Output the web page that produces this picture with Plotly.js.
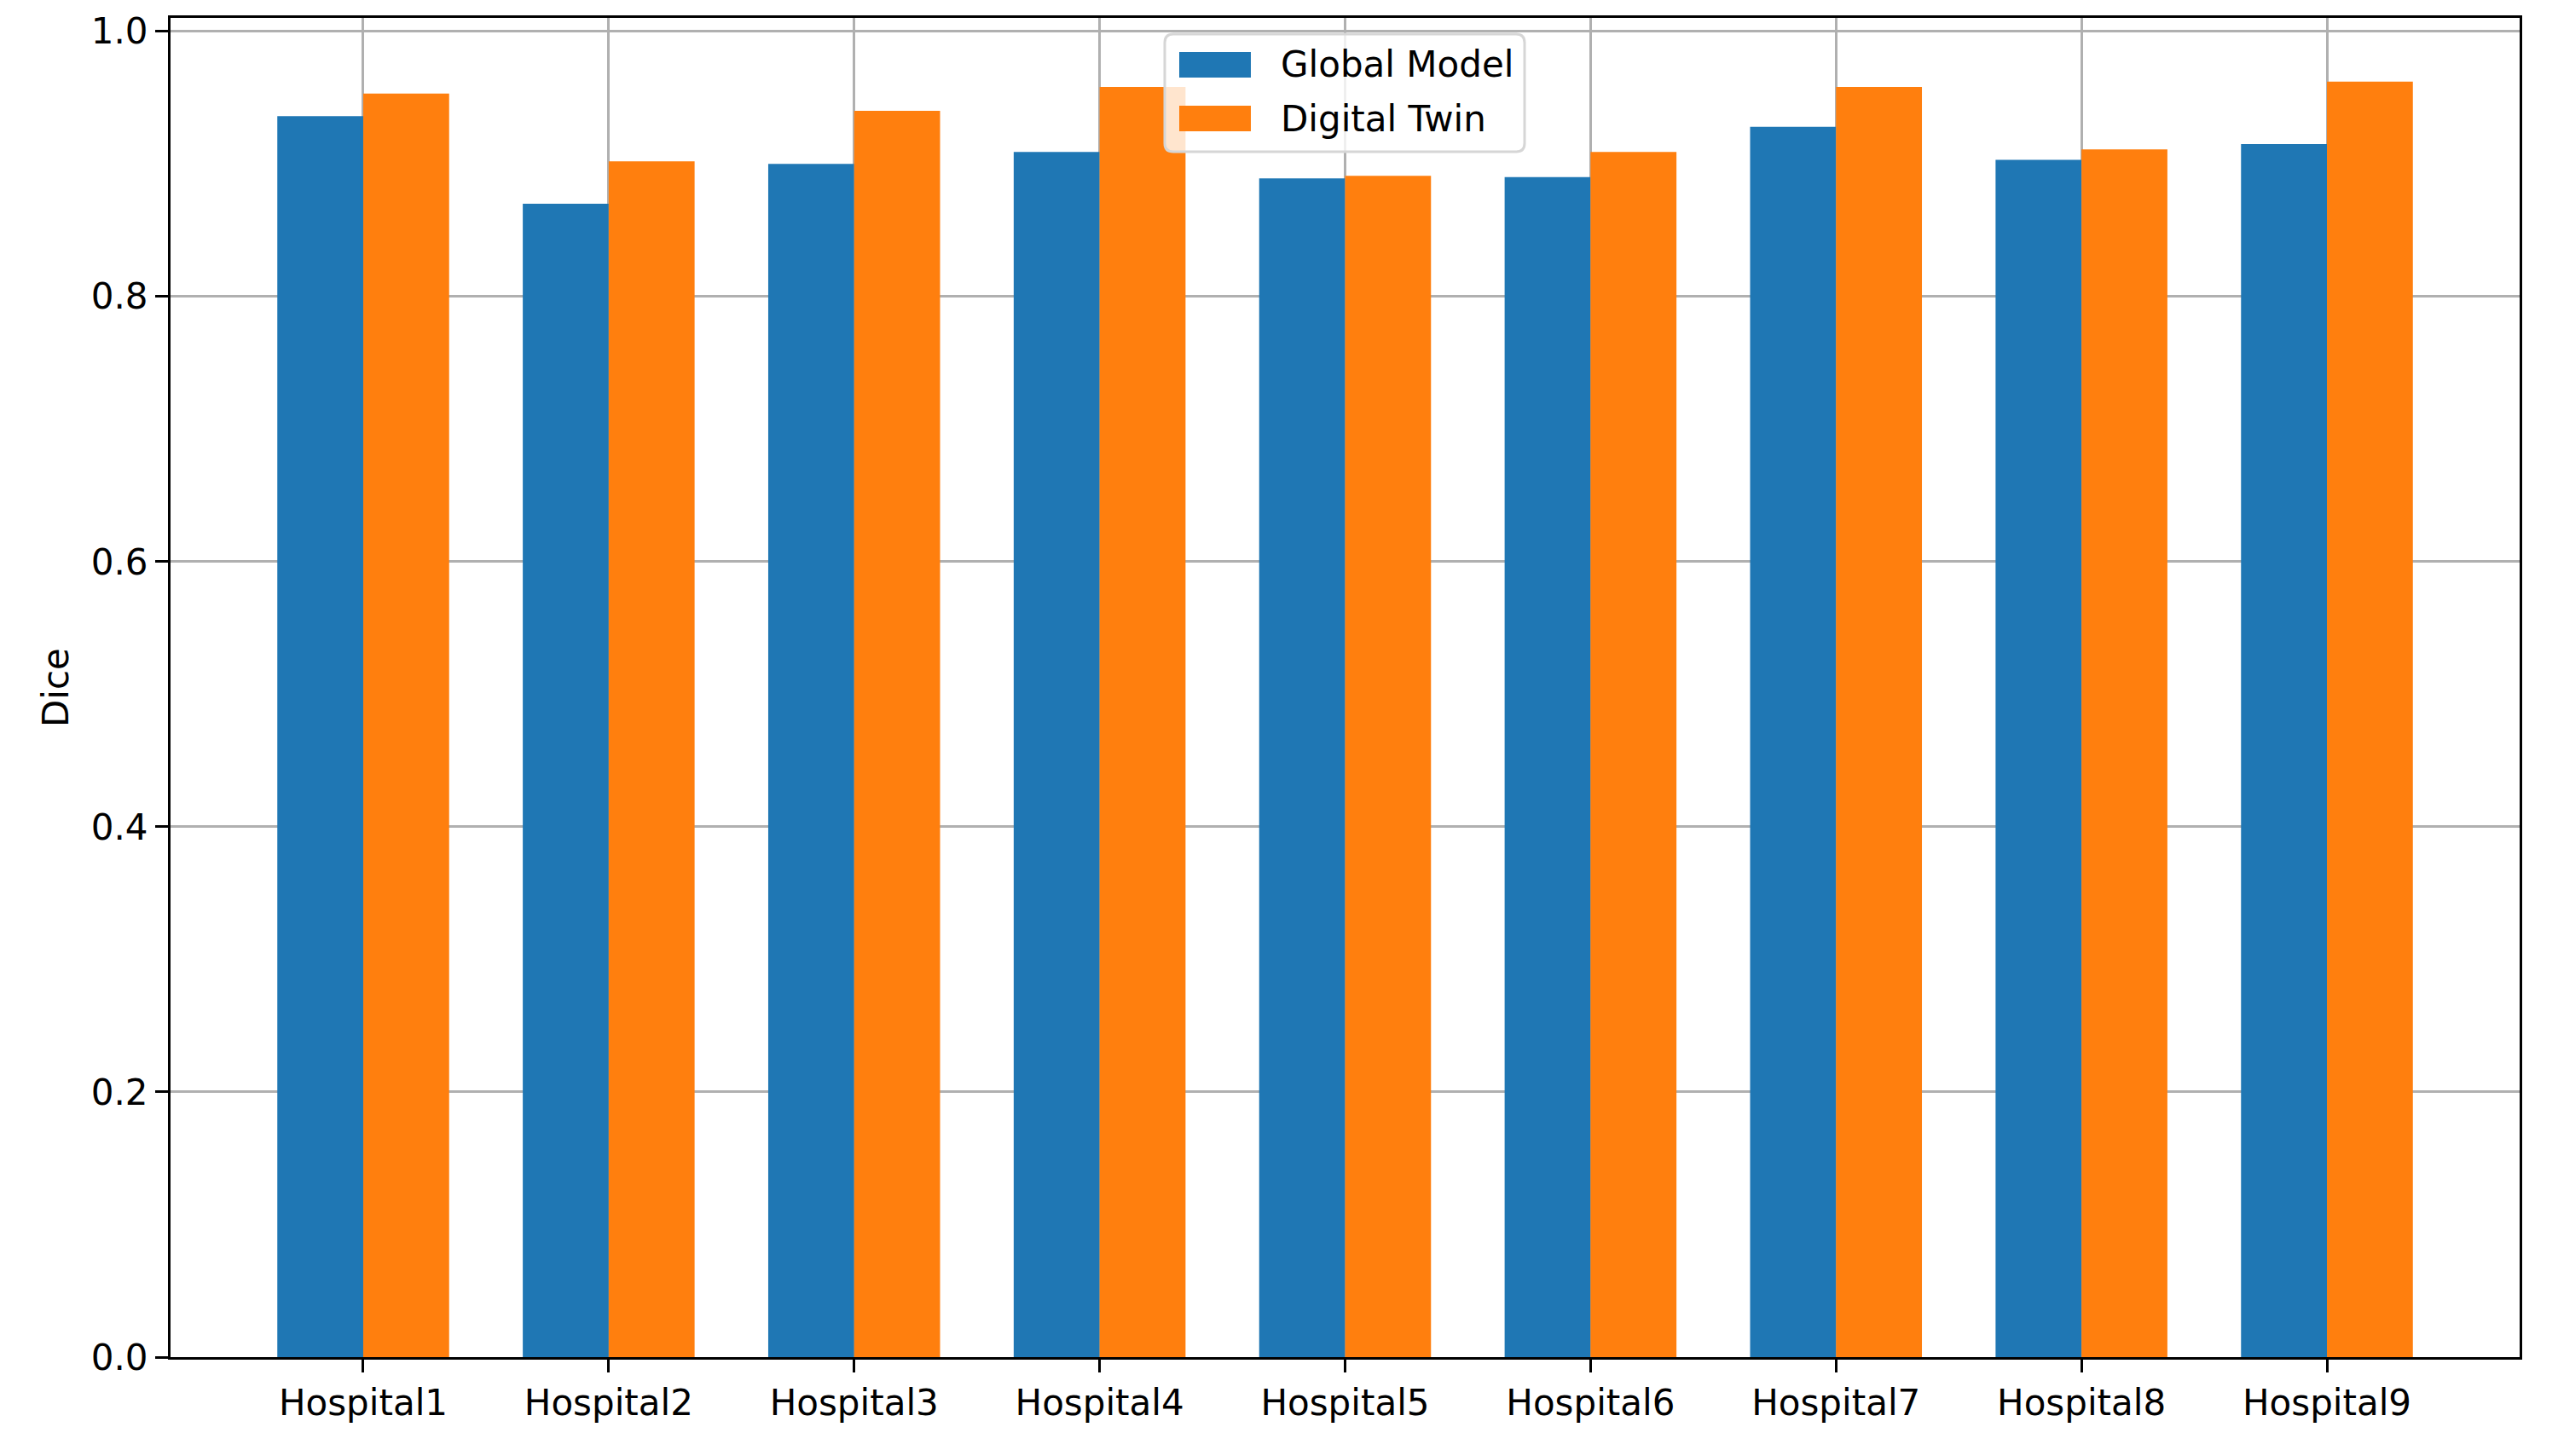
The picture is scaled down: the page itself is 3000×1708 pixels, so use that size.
<!DOCTYPE html>
<html>
<head>
<meta charset="utf-8">
<script src="https://cdn.plot.ly/plotly-3.0.1.min.js"></script>
<style>html,body{margin:0;padding:0;background:#fff;}</style>
</head>
<body>
<div id="chart" style="width:3000px;height:1708px;"></div>
<script>
const hospitals = ["Hospital1","Hospital2","Hospital3","Hospital4","Hospital5","Hospital6","Hospital7","Hospital8","Hospital9"];
const globalModel = [0.936, 0.870, 0.900, 0.909, 0.889, 0.890, 0.928, 0.903, 0.915];
const digitalTwin = [0.953, 0.902, 0.940, 0.958, 0.891, 0.909, 0.958, 0.911, 0.962];
const seriesNames = ["Global Model", "Digital Twin"];
const seriesColors = ["#1f77b4", "#ff7f0e"];
const yTicks = [0.0, 0.2, 0.4, 0.6, 0.8, 1.0];
const yTickLabels = ["0.0", "0.2", "0.4", "0.6", "0.8", "1.0"];

const idx = hospitals.map((_, i) => i);
const fontFam = "DejaVu Sans, sans-serif";

const traces = [
  {type: "bar", name: seriesNames[0], x: idx, y: globalModel, offset: -0.35, width: 0.35,
   marker: {color: seriesColors[0], line: {width: 0}}},
  {type: "bar", name: seriesNames[1], x: idx, y: digitalTwin, offset: 0, width: 0.35,
   marker: {color: seriesColors[1], line: {width: 0}}}
];

// plot area in pixels (for legend placement)
const M = {l: 200, r: 45, t: 21, b: 116};
const W = 3000, H = 1708;
const pw = W - M.l - M.r, ph = H - M.t - M.b;
const px = x => (x - M.l) / pw;
const py = y => (H - M.b - y) / ph;

// custom legend box (matplotlib-style, rounded)
const bx0 = 1366, bx1 = 1788, by0 = 40, by1 = 178, rad = 10;
function roundedPath(x0, y0, x1, y1, r) {
  const f = (x, y) => px(x).toFixed(5) + "," + py(y).toFixed(5);
  return "M" + f(x0 + r, y0) + " L" + f(x1 - r, y0) + " Q" + f(x1, y0) + " " + f(x1, y0 + r) +
    " L" + f(x1, y1 - r) + " Q" + f(x1, y1) + " " + f(x1 - r, y1) +
    " L" + f(x0 + r, y1) + " Q" + f(x0, y1) + " " + f(x0, y1 - r) +
    " L" + f(x0, y0 + r) + " Q" + f(x0, y0) + " " + f(x0 + r, y0) + " Z";
}
const shapes = [{
  type: "path", xref: "paper", yref: "paper", layer: "above",
  path: roundedPath(bx0, by0, bx1, by1, rad),
  fillcolor: "rgba(255,255,255,0.8)", line: {color: "#d6d6d6", width: 3}
}];
const annotations = [];
const rowY = [76, 139];
seriesNames.forEach((nm, i) => {
  shapes.push({
    type: "rect", xref: "paper", yref: "paper", layer: "above",
    x0: px(1383), x1: px(1467), y0: py(rowY[i] - 15), y1: py(rowY[i] + 15),
    fillcolor: seriesColors[i], line: {width: 0}
  });
  annotations.push({
    xref: "paper", yref: "paper", x: px(1500), y: py(rowY[i]), xanchor: "left", yanchor: "middle",
    text: nm, showarrow: false, font: {family: fontFam, size: 42, color: "#000000"}
  });
});

const layout = {
  width: W, height: H,
  margin: {l: M.l, r: M.r, t: M.t, b: M.b, pad: 0},
  paper_bgcolor: "#ffffff", plot_bgcolor: "#ffffff",
  font: {family: fontFam, size: 42, color: "#000000"},
  showlegend: false,
  shapes: shapes,
  annotations: annotations,
  xaxis: {
    range: [-0.785, 8.785],
    tickmode: "array", tickvals: idx, ticktext: hospitals,
    showgrid: true, gridcolor: "#b0b0b0", gridwidth: 3,
    showline: true, linecolor: "#000000", linewidth: 3, mirror: true,
    ticks: "outside", ticklen: 15, tickwidth: 3, tickcolor: "#000000",
    tickfont: {family: fontFam, size: 42, color: "#000000"},
    zeroline: false, layer: "above traces", fixedrange: true
  },
  yaxis: {
    range: [0, 1.0101],
    tickmode: "array", tickvals: yTicks, ticktext: yTickLabels,
    showgrid: true, gridcolor: "#b0b0b0", gridwidth: 3,
    showline: true, linecolor: "#000000", linewidth: 3, mirror: true,
    ticks: "outside", ticklen: 15, tickwidth: 3, tickcolor: "#000000",
    tickfont: {family: fontFam, size: 42, color: "#000000"},
    title: {text: "Dice", font: {family: fontFam, size: 42, color: "#000000"}, standoff: 14},
    zeroline: false, layer: "above traces", fixedrange: true
  },
  bargap: 0.3, bargroupgap: 0
};

Plotly.newPlot("chart", traces, layout, {displayModeBar: false, staticPlot: true});
</script>
</body>
</html>
